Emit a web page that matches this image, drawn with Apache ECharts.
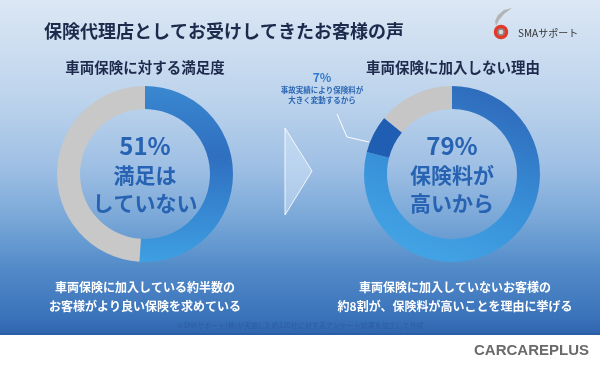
<!DOCTYPE html>
<html><head><meta charset="utf-8">
<script src="https://cdn.jsdelivr.net/npm/echarts@6/dist/echarts.min.js"></script>
<style>html,body{margin:0;padding:0;background:#fff}#c{width:600px;height:371px}</style>
</head><body><div id="c"></div>
<script>
const titleText = '保険代理店としてお受けしてきたお客様の声';
const leftTitle = '車両保険に対する満足度';
const rightTitle = '車両保険に加入しない理由';
const leftCategories = ['満足はしていない', 'その他'];
const leftValues = [51, 49];
const leftCenterLines = ['満足は', 'していない'];
const rightCategories = ['保険料が高いから', '事故実績により保険料が大きく変動するから', 'その他'];
const rightValues = [79, 7, 14];
const rightCenterLines = ['保険料が', '高いから'];
const rightNoteLines = ['事故実績により保険料が', '大きく変動するから'];
const leftBottom = ['車両保険に加入している約半数の', 'お客様がより良い保険を求めている'];
const rightBottom = ['車両保険に加入していないお客様の', '約8割が、保険料が高いことを理由に挙げる'];
const footnote = '※SMAサポート(株)が実施した約120社に対するアンケート結果を加工して作成';

const FONT = '"Noto Sans CJK JP", "Noto Sans", sans-serif';
const chart = echarts.init(document.getElementById('c'), null, {renderer: 'canvas'});

const centerRich = {
  p: {fontSize: 24, lineHeight: 30, fontWeight: 'bold', color: '#2763b2', fontFamily: FONT},
  t: {fontSize: 21, lineHeight: 28, fontWeight: 'bold', color: '#2763b2', fontFamily: FONT}
};

const leftBlue = new echarts.graphic.LinearGradient(0, 0, 0, 1, [
  {offset: 0, color: '#3a88d0'}, {offset: 0.4, color: '#2f6fc0'}, {offset: 1, color: '#3e9fe2'}
]);
const rightBlue = new echarts.graphic.LinearGradient(0.7, 0, 0.3, 1, [
  {offset: 0, color: '#2e69ba'}, {offset: 0.55, color: '#3890d8'}, {offset: 1, color: '#43a5e5'}
]);

function txt(x, y, text, size, color, weight, align) {
  return {type: 'text', x: x, y: y, silent: true, style: {
    text: text, fontSize: size, fill: color, fontWeight: weight || 'bold', fontFamily: FONT,
    align: align || 'center', verticalAlign: 'middle'}};
}

const option = {
  animation: false,
  graphic: [
    {type: 'rect', shape: {x: 0, y: 0, width: 600, height: 335}, silent: true, z: -10,
      style: {fill: new echarts.graphic.LinearGradient(0, 0, 0, 1, [
        {offset: 0, color: '#dbe7f4'}, {offset: 0.3, color: '#bcd3ec'}, {offset: 0.5, color: '#9ebfe4'},
        {offset: 0.65, color: '#7aa8d8'}, {offset: 0.8, color: '#528bc9'}, {offset: 0.95, color: '#3a72b9'},
        {offset: 1, color: '#2d64ad'}])}},
    {type: 'rect', shape: {x: 0, y: 333, width: 600, height: 2}, silent: true, z: -9, style: {fill: '#2a5ea6'}},
    {type: 'polygon', shape: {points: [[285, 128], [312, 171], [285, 215]]}, silent: true,
      style: {fill: 'rgba(220,235,250,0.45)', stroke: 'rgba(255,255,255,0.85)', lineWidth: 1}},
    txt(44, 31, titleText, 18, '#1d2a4c', 'bold', 'left'),
    txt(145, 67, leftTitle, 14.5, '#1d2a4c'),
    txt(453, 67, rightTitle, 14.5, '#1d2a4c'),
    txt(145, 287, leftBottom[0], 12, '#ffffff'),
    txt(145, 306, leftBottom[1], 12, '#ffffff'),
    txt(455, 287, rightBottom[0], 12, '#ffffff'),
    txt(455, 306, rightBottom[1], 12, '#ffffff'),
    txt(300, 325, footnote, 7, '#2c5da3', 'normal'),
    // logo
    {type: 'polygon', silent: true, shape: {points: [[512, 8], [504, 10], [498, 15], [495, 21], [496, 26], [499, 20], [504, 14]]},
      style: {fill: '#b4b4b4'}},
    {type: 'circle', shape: {cx: 501, cy: 32, r: 5.5}, silent: true, style: {fill: '#8a8a8a', stroke: '#e23a2a', lineWidth: 3.5}},
    {type: 'circle', shape: {cx: 501, cy: 32, r: 2.2}, silent: true, style: {fill: '#d8d8d8'}},
    txt(518, 33, 'SMAサポート', 10, '#333333', 'normal', 'left'),
    {type: 'text', x: 589, y: 351, silent: true, style: {text: 'CARCAREPLUS', fontSize: 15, fontWeight: 'bold',
      fontFamily: '"Liberation Sans", Arial, sans-serif', fill: '#6a6a6a', align: 'right', verticalAlign: 'middle'}}
  ],
  series: [
    {
      type: 'pie', center: [145, 174], radius: [65, 88], startAngle: 90, clockwise: true, silent: true,
      label: {show: false}, labelLine: {show: false}, emphasis: {disabled: true},
      data: leftValues.map((v, i) => ({
        name: leftCategories[i], value: v,
        itemStyle: {color: i === 0 ? leftBlue : '#c8c8c8'},
        label: i === 0 ? {show: true, position: 'center', formatter: '{p|' + v + '%}\n' + leftCenterLines.map(s => '{t|' + s + '}').join('\n'), rich: centerRich} : {show: false}
      }))
    },
    {
      type: 'pie', center: [452, 174], radius: [65, 88], startAngle: 90, clockwise: true, silent: true,
      label: {show: false}, labelLine: {show: false}, emphasis: {disabled: true},
      labelLayout: function (p) {
        if (p.dataIndex !== 1) return {};
        return {x: 322, y: 69, align: 'center', verticalAlign: 'top',
          labelLinePoints: [[369, 142], [347, 137], [337, 114]]};
      },
      data: rightValues.map((v, i) => {
        const d = {name: rightCategories[i], value: v,
          itemStyle: {color: i === 0 ? rightBlue : (i === 1 ? '#1f5eb3' : '#c6c6c6')}};
        if (i === 0) {
          d.label = {show: true, position: 'center', formatter: '{p|' + v + '%}\n' + rightCenterLines.map(s => '{t|' + s + '}').join('\n'), rich: centerRich};
        } else if (i === 1) {
          d.label = {show: true, position: 'outside', align: 'center',
            formatter: '{p|' + v + '%}\n' + rightNoteLines.map(s => '{n|' + s + '}').join('\n'),
            rich: {
              p: {fontSize: 12, lineHeight: 16, fontWeight: 'bold', color: '#2f7acd', fontFamily: FONT, align: 'center'},
              n: {fontSize: 7.5, lineHeight: 10, fontWeight: 'bold', color: '#2a66b4', fontFamily: FONT, align: 'center'}
            }};
          d.labelLine = {show: true, lineStyle: {color: '#ffffff', width: 1}};
        }
        return d;
      })
    }
  ]
};
chart.setOption(option);
</script></body></html>
